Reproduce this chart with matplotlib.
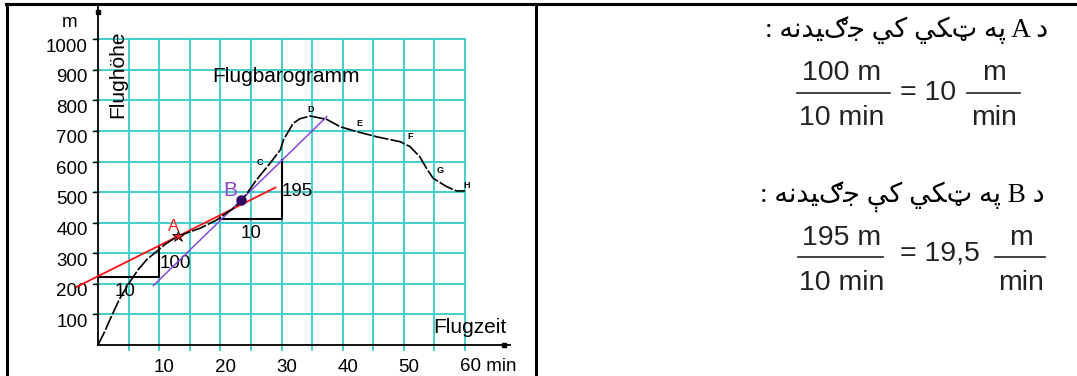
import matplotlib
matplotlib.use('Agg')
import matplotlib.pyplot as plt
from matplotlib import font_manager, ft2font
from matplotlib.lines import Line2D

# flight barogram
flight_time = [0, 1, 2, 3.5, 5, 6.5, 8, 9.9, 11, 12.9, 15, 16.7, 19.4, 20.5, 22, 23.3,
               24.5, 25.9, 28.1, 29.8, 30.3, 31.9, 33, 34.7, 37.4, 39.6, 42.3, 45.6,
               49.4, 51, 52.6, 53.7, 54.8, 57, 58.6, 60]
flight_height = [0, 40, 85, 150, 200, 245, 280, 311, 330, 354, 370, 382, 409, 425, 445, 468,
                 500, 540, 594, 638, 670, 725, 740, 749, 738, 714, 698, 681,
                 665, 649, 616, 578, 545, 518, 504, 504]

# tangent at A and at B
point_a = (13, 355)
slope_a = 10
range_a = (-3.5, 29)
point_b = (23.4, 474)
slope_b = 19.5
range_b = (9.05, 37.4)

# slope triangles: (x start, x end, base height, rise)
triangle_a = (0, 10, 222, 100)
triangle_b = (20, 30, 411, 195)

# letters along the curve
point_names = ['C', 'D', 'E', 'F', 'G', 'H']
point_x = [26.4, 34.7, 42.7, 51.1, 55.9, 60.3]
point_y = [596, 771, 725, 681, 572, 523]

x_ticks = [10, 20, 30, 40, 50]
y_ticks = [100, 200, 300, 400, 500, 600, 700, 800, 900, 1000]

line_a = 'د A په ټکي کي جګيدنه :'
line_b = 'د B په ټکي کې جګيدنه :'
frac_a = ('100 m', '10 min', '= 10', 'm', 'min')
frac_b = ('195 m', '10 min', '= 19,5', 'm', 'min')

W, H = 1077, 376
GRID = '#33CCCC'
SANS = 'Liberation Sans'


# --- tiny arabic shaper: matplotlib draws no joined / rtl text by itself
FORMS = {  # isolated, final, initial, medial
    'د': '\uFEA9\uFEAA',
    'پ': '\uFB56\uFB57\uFB58\uFB59',
    'ه': '\uFEE9\uFEEA\uFEEB\uFEEC',
    'ک': '\uFB8E\uFB8F\uFB90\uFB91',
    'ي': '\uFEF1\uFEF2\uFEF3\uFEF4',
    'ې': '\uFBE4\uFBE5\uFBE6\uFBE7',
    'ج': '\uFE9D\uFE9E\uFE9F\uFEA0',
    'ن': '\uFEE5\uFEE6\uFEE7\uFEE8',
}
ARABIC = set('دپهکيېجنټګ')
RIGHT_ONLY = set('د')

_cmap = ft2font.FT2Font(font_manager.findfont('DejaVu Sans')).get_charmap()


def shape(text):
    out = []
    for i, ch in enumerate(text):
        if ch not in ARABIC:
            out.append(ch)
            continue
        prev = text[i - 1] if i > 0 else ''
        nxt = text[i + 1] if i + 1 < len(text) else ''
        join_prev = prev in ARABIC and prev not in RIGHT_ONLY
        join_next = nxt in ARABIC and ch not in RIGHT_ONLY
        forms = FORMS.get(ch)
        if forms is None:
            out.append(ch)
            continue
        if join_prev and join_next:
            idx = 3
        elif join_prev:
            idx = 1
        elif join_next:
            idx = 2
        else:
            idx = 0
        g = forms[idx] if idx < len(forms) else forms[0]
        out.append(g if ord(g) in _cmap else ch)
    return ''.join(out)[::-1]


def fx(px):
    return px / W


def fy(py):
    return 1 - py / H


fig = plt.figure(figsize=(W / 100, H / 100), dpi=100)
ax = fig.add_axes([0, 0, 1, 1])
# x=0 at 98 px, 6.117 px per min ; y=0 at 345 px, 0.3057 px per m
ax.set_xlim(-98 / 6.117, (W - 98) / 6.117)
ax.set_ylim((345 - H) / 0.3057, 345 / 0.3057)
ax.axis('off')

# grid
for x in range(5, 61, 5):
    ax.plot([x, x], [-15, 1000], color=GRID, lw=1.3, zorder=1)
for y in y_ticks:
    ax.plot([-0.5, 60], [y, y], color=GRID, lw=1.3, zorder=1)
    ax.plot([-0.8, 0], [y, y], color='black', lw=1.0, zorder=2)

# axes lines
ax.plot([0, 0], [0, 1105], color='black', lw=1.3, zorder=3)
ax.plot([0, 67.4], [0, 0], color='black', lw=1.3, zorder=3)
ax.plot([66.3], [0], marker='s', ms=3.5, color='black', zorder=3)
ax.plot([0], [1088], marker='s', ms=2.5, color='black', zorder=3)

# slope triangles
for x0, x1, y0, rise in (triangle_a, triangle_b):
    ax.plot([x0, x1, x1], [y0, y0, y0 + rise], color='black', lw=1.5, zorder=3)

# tangents
xa = range_a
ax.plot(xa, [point_a[1] + slope_a * (x - point_a[0]) for x in xa], color='#FF1010', lw=1.3, zorder=4)
xb = range_b
ax.plot(xb, [point_b[1] + slope_b * (x - point_b[0]) for x in xb], color='#8848D8', lw=1.1, zorder=4)

# barogram
ax.plot(flight_time, flight_height, color='black', lw=1.2, dashes=(9, 1.2), zorder=5)

ax.plot(*point_a, marker='*', ms=9, color='#FF2020', mec='black', mew=0.6, zorder=6)
ax.plot(*point_b, marker='o', ms=6.5, color='#330066', zorder=6)

ax.text(12.3, 387, 'A', color='#FF2020', fontsize=12, ha='center', va='center', family=SANS)
ax.text(21.6, 507, 'B', color='#8848C8', fontsize=15, ha='center', va='center', family=SANS)

ax.text(4.4, 174, '10', fontsize=13.5, ha='center', va='center', family=SANS)
ax.text(12.6, 267, '100', fontsize=13.5, ha='center', va='center', family=SANS)
ax.text(25.1, 365, '10', fontsize=13.5, ha='center', va='center', family=SANS)
ax.text(32.5, 502, '195', fontsize=13.5, ha='center', va='center', family=SANS)

for name, x, y in zip(point_names, point_x, point_y):
    ax.text(x, y, name, fontsize=6.5, fontweight='bold', ha='center', va='center', family=SANS)

# tick labels
for x in x_ticks:
    ax.text(x + 0.8, -88, str(x), fontsize=13.5, ha='center', va='baseline', family=SANS)
ax.text(59.2, -85, '60 min', fontsize=13.5, ha='left', va='baseline', family=SANS)
for y in y_ticks:
    ax.text(-1.7, y - 40, str(y), fontsize=13.5, ha='right', va='baseline', family=SANS)

ax.text(-4.6, 1040, 'm', fontsize=13.5, ha='center', va='baseline', family=SANS)
ax.text(3.3, 885, 'Flughöhe', fontsize=15, rotation=90, ha='center', va='center', family=SANS)
ax.text(18.6, 861, 'Flugbarogramm', fontsize=15, ha='left', va='baseline', family=SANS)
ax.text(54.8, 39, 'Flugzeit', fontsize=15, ha='left', va='baseline', family=SANS)

# table borders
for xs, ys in (([6, W], [4, 4]), ([6.5, 6.5], [4, H]), ([535.5, 535.5], [4, H])):
    fig.add_artist(Line2D([fx(v) for v in xs], [fy(v) for v in ys], color='black', lw=2.2))

# right panel
MIX = ['Liberation Serif', 'DejaVu Sans']
fig.text(fx(1048), fy(37), shape(line_a), fontsize=19.5, ha='right', va='baseline', family=MIX)
fig.text(fx(1045), fy(203), shape(line_b), fontsize=19.5, ha='right', va='baseline', family=MIX)

TXT = '#222222'
FS = 20.5


def fraction(parts, top, bar, bottom, eq_left, x_num, x_bar, x_unit, x_unit_bar, eq_base):
    num, den, eq, unum, uden = parts
    fig.text(fx(x_num), fy(top), num, fontsize=FS, ha='center', va='baseline', family=SANS, color=TXT)
    fig.text(fx(x_num), fy(bottom), den, fontsize=FS, ha='center', va='baseline', family=SANS, color=TXT)
    fig.add_artist(Line2D([fx(x_bar[0]), fx(x_bar[1])], [fy(bar), fy(bar)], color=TXT, lw=1.2))
    fig.text(fx(eq_left), fy(eq_base), eq, fontsize=FS, ha='left', va='baseline', family=SANS, color=TXT)
    fig.text(fx(x_unit), fy(top), unum, fontsize=FS, ha='center', va='baseline', family=SANS, color=TXT)
    fig.text(fx(x_unit), fy(bottom), uden, fontsize=FS, ha='center', va='baseline', family=SANS, color=TXT)
    fig.add_artist(Line2D([fx(x_unit_bar[0]), fx(x_unit_bar[1])], [fy(bar), fy(bar)], color=TXT, lw=1.2))


fraction(frac_a, 80, 93, 125, 900, 842, (797, 890), 994, (967, 1020), 100)
fraction(frac_b, 245, 257, 290, 900, 842, (798, 883), 1021, (995, 1045), 260)

fig.savefig('out.png', dpi=100)
